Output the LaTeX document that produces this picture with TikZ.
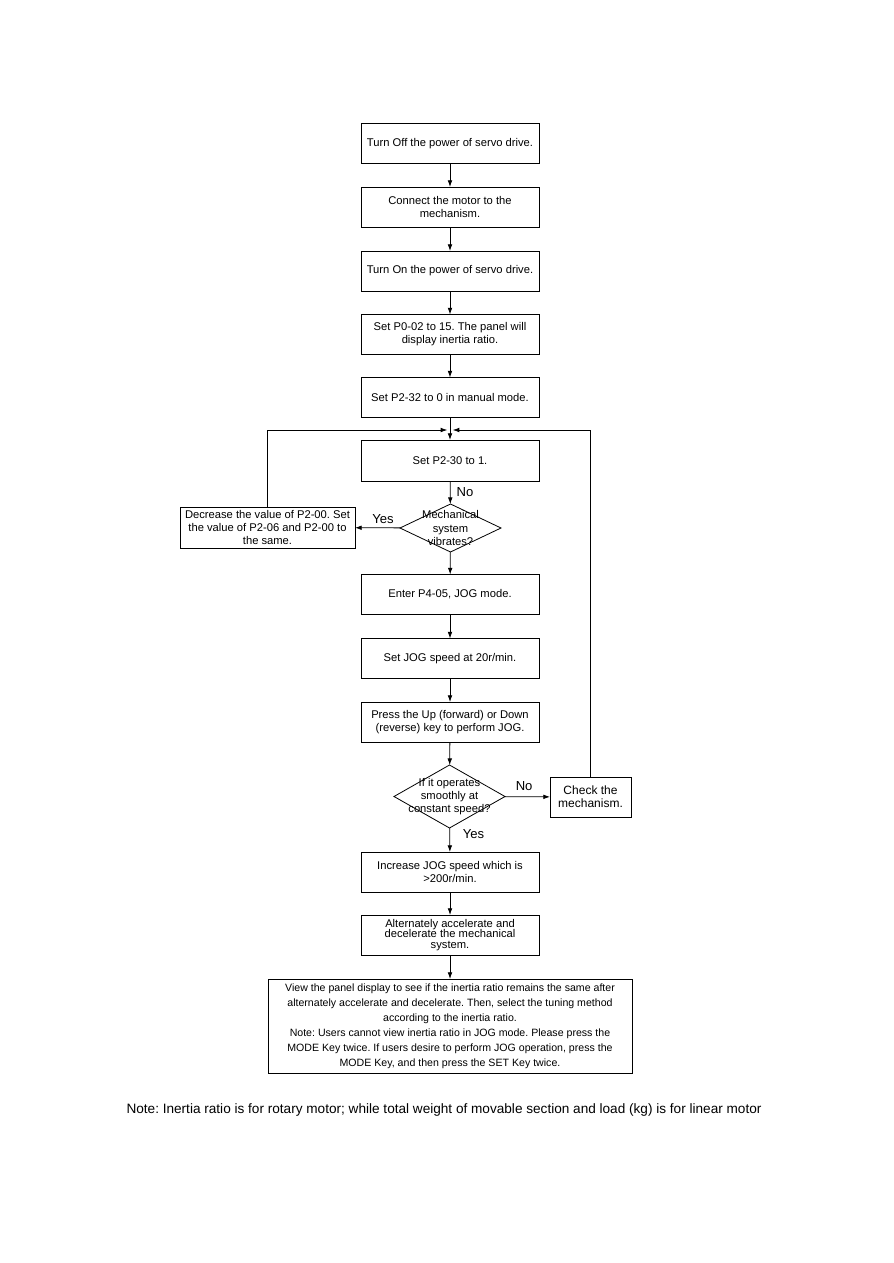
\documentclass[tikz,border=0pt]{standalone}
\usepackage{fontspec}
\setmainfont{Liberation Sans}
\usetikzlibrary{arrows.meta,positioning,shapes.geometric}
\frenchspacing

\begin{document}
\begin{tikzpicture}[
  x=0.75pt, y=-0.75pt,
  >={Latex[length=5pt,width=3.5pt]},
  font=\fontsize{8.4}{9.8}\selectfont,
  box/.style={
    draw,
    align=center,
    inner sep=2pt,
    outer sep=0pt,
    line width=0.6pt,
    minimum width=133.5pt,
    minimum height=30pt
  },
  widebox/.style={
    box,
    minimum width=273pt,
    minimum height=70.5pt,
    font=\fontsize{7.95}{11.2}\selectfont
  },
  decision/.style={
    draw,
    diamond,
    inner sep=0pt,
    outer sep=0pt,
    line width=0.6pt
  },
  yn/.style={
    font=\fontsize{9.8}{11}\selectfont,
    inner sep=0pt
  },
  edge/.style={
    draw=black,
    line width=0.6pt
  }
]
\useasboundingbox (0,0) rectangle (893,1263);

% Main column
\node[box] (off)    at (450,143.5) {Turn Off the power of servo drive.};
\node[box] (conn)   at (450,207)   {Connect the motor to the\\mechanism.};
\node[box] (on)     at (450,271)   {Turn On the power of servo drive.};
\node[box] (p002)   at (450,334.5) {Set P0-02 to 15. The panel will\\display inertia ratio.};
\node[box] (p232)   at (450,397.5) {Set P2-32 to 0 in manual mode.};
\node[box, minimum height=30.75pt] (p230) at (450,460.5) {Set P2-30 to 1.};

\node[decision, minimum width=75.75pt, minimum height=36pt,
  label={[align=center, inner sep=0pt, font=\fontsize{8.4}{9.8}\selectfont]center:Mechanical\\system\\vibrates?}]
  (vib) at (450.5,528) {};
\node[box, minimum width=131.25pt, minimum height=30.75pt] (dec) at (267.5,527.5)
  {Decrease the value of P2-00. Set\\the value of P2-06 and P2-00 to\\the same.};

\node[box] (jog)    at (450,594.5) {Enter P4-05, JOG mode.};
\node[box] (speed)  at (450,658.5) {Set JOG speed at 20r/min.};
\node[box] (press)  at (450,722)   {Press the Up (forward) or Down\\(reverse) key to perform JOG.};

\node[decision, minimum width=83.25pt, minimum height=47.25pt,
  label={[align=center, inner sep=0pt, font=\fontsize{8.4}{10}\selectfont]center:If it operates\\smoothly at\\constant speed?}]
  (smooth) at (449.5,796.5) {};
\node[box, minimum width=60.75pt, font=\fontsize{9}{10}\selectfont] (check) at (590.5,797)
  {Check the\\mechanism.};

\node[box] (incr)   at (450,872)   {Increase JOG speed which is\\>200r/min.};
\node[box, font=\fontsize{8.4}{8.1}\selectfont] (accel) at (450,935)
  {Alternately accelerate and\\decelerate the mechanical\\system.};
\node[widebox] (view) at (450,1026)
  {View the panel display to see if the inertia ratio remains the same after\\
   alternately accelerate and decelerate. Then, select the tuning method\\
   according to the inertia ratio.\\
   Note: Users cannot view inertia ratio in JOG mode. Please press the\\
   MODE Key twice. If users desire to perform JOG operation, press the\\
   MODE Key, and then press the SET Key twice.};

% Footnote
\node[font=\fontsize{10.2}{11}\selectfont] (remark) at (444,1110)
  {Note: Inertia ratio is for rotary motor; while total weight of movable section and load (kg) is for linear motor};

% Straight flow
\draw[edge,->] (off) -- (conn);
\draw[edge,->] (conn) -- (on);
\draw[edge,->] (on) -- (p002);
\draw[edge,->] (p002) -- (p232);
\draw[edge,->] (p232) -- (p230);
\draw[edge,->] (p230) -- (vib)
  node[yn, pos=0.5, right=4.5pt] {No};
\draw[edge,->] (vib) -- (dec)
  node[yn, pos=0.38, above=3pt] {Yes};
\draw[edge,->] (vib) -- (jog);
\draw[edge,->] (jog) -- (speed);
\draw[edge,->] (speed) -- (press);
\draw[edge,->] (press) -- (smooth);
\draw[edge,->] (smooth) -- (check)
  node[yn, pos=0.43, above=4pt] {No};
\draw[edge,->] (smooth) -- (incr)
  node[yn, pos=0.24, right=9.5pt] {Yes};
\draw[edge,->] (incr) -- (accel);
\draw[edge,->] (accel) -- (view);

% Loops back to P2-30
\coordinate (merge) at (450,430);
\draw[edge,->] (dec.north) |- ([xshift=-2pt]merge);
\draw[edge,->] (check.north) |- ([xshift=2pt]merge);

\end{tikzpicture}
\end{document}
